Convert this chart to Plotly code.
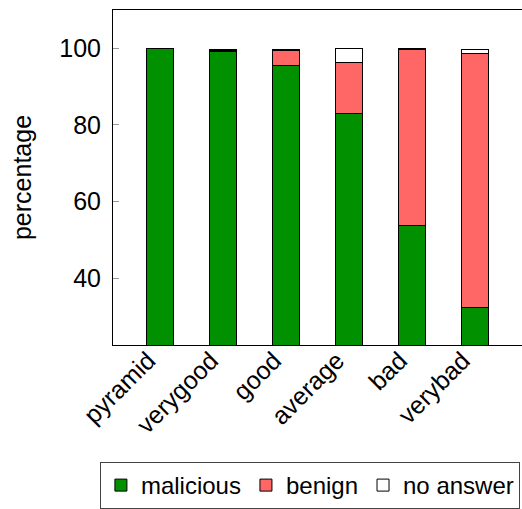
import plotly.graph_objects as go

categories = ["pyramid", "verygood", "good", "average", "bad", "verybad"]
malicious = [100.0, 99.2, 95.5, 83.0, 53.8, 32.5]
benign = [0.0, 0.2, 4.0, 13.4, 45.9, 66.2]
no_answer = [0.0, 0.3, 0.3, 3.6, 0.3, 1.0]

FONT = "Liberation Sans"
fig = go.Figure()
for name, vals, color in [("malicious", malicious, "#009000"),
                          ("benign", benign, "#ff6666"),
                          ("no answer", no_answer, "#ffffff")]:
    fig.add_trace(go.Bar(x=list(range(len(categories))), y=vals, name=name,
                         width=0.43, marker=dict(color=color, line=dict(color="black", width=1))))

fig.update_layout(
    barmode="stack",
    width=522, height=509,
    margin=dict(l=113, r=0, t=10, b=163),
    plot_bgcolor="white", paper_bgcolor="white",
    font=dict(family=FONT, size=25, color="black"),
    showlegend=True,
    legend=dict(orientation="h", x=-0.032, y=-0.351, xanchor="left", yanchor="top",
                traceorder="normal",
                bordercolor="#444", borderwidth=1, font=dict(size=24),
                itemwidth=30, tracegroupgap=0),
)
fig.update_xaxes(range=[-0.75, 5.75], tickmode="array", tickvals=list(range(len(categories))),
                 ticktext=categories, tickangle=-45, showline=True, linecolor="black",
                 linewidth=1, mirror=True, showgrid=False, ticks="", zeroline=False,
                 automargin=False, ticklabelshift=-12, ticklabelstandoff=-10)
fig.update_yaxes(range=[22.6, 110], tickvals=[40, 60, 80, 100], showline=True,
                 linecolor="black", linewidth=1, showgrid=False, ticks="inside",
                 ticklen=6, tickcolor="#999", zeroline=False, automargin=False,
                 ticklabelstandoff=6,
                 title=dict(text="percentage", font=dict(size=25), standoff=20))

fig.write_html("out.html", config={"displayModeBar": False},
               post_script="document.body.style.margin='0';")
